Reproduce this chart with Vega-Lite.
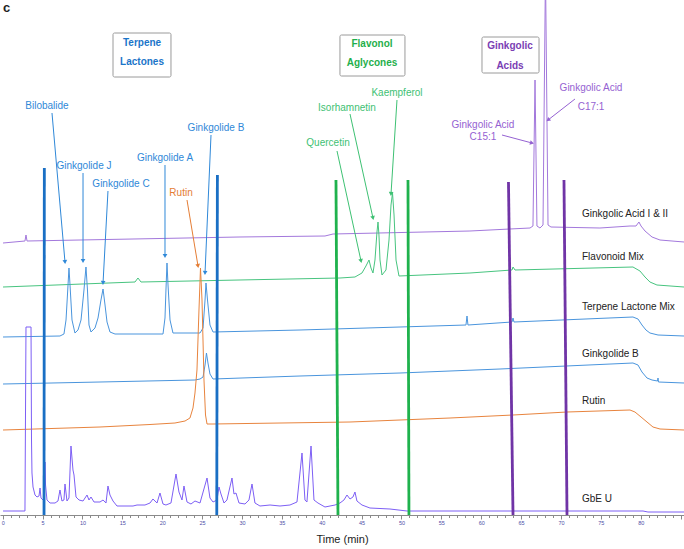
{
  "$schema": "https://vega.github.io/schema/vega-lite/v6.json",
  "width": 684,
  "height": 515,
  "autosize": {"type": "none"},
  "padding": {"left": 0, "top": 0, "right": 0, "bottom": 34},
  "background": "white",
  "config": {"view": {"stroke": null}, "font": "Liberation Sans"},
  "datasets": {
    "traces": [
      {"c":"GA","t":0.04,"v":272},{"c":"GA","t":2.79,"v":274},{"c":"GA","t":2.92,"v":280},{"c":"GA","t":3.05,"v":274},{"c":"GA","t":29.63,"v":278},{"c":"GA","t":40.41,"v":279},{"c":"GA","t":41.42,"v":281},{"c":"GA","t":58.59,"v":284},{"c":"GA","t":66.12,"v":287},{"c":"GA","t":66.49,"v":289},{"c":"GA","t":66.75,"v":435},{"c":"GA","t":66.99,"v":289},{"c":"GA","t":67.37,"v":287},{"c":"GA","t":67.75,"v":290},{"c":"GA","t":68.06,"v":545},{"c":"GA","t":68.38,"v":290},{"c":"GA","t":68.75,"v":288},{"c":"GA","t":74.89,"v":287},{"c":"GA","t":78.66,"v":289},{"c":"GA","t":79.41,"v":289},{"c":"GA","t":79.78,"v":293},{"c":"GA","t":80.04,"v":289},{"c":"GA","t":80.54,"v":284},{"c":"GA","t":81.42,"v":278},{"c":"GA","t":82.42,"v":275},{"c":"GA","t":85.43,"v":273},
      {"c":"FM","t":0.04,"v":228},{"c":"FM","t":16.59,"v":233},{"c":"FM","t":16.96,"v":237},{"c":"FM","t":17.34,"v":233},{"c":"FM","t":29.63,"v":235},{"c":"FM","t":42.29,"v":237},{"c":"FM","t":44.17,"v":238},{"c":"FM","t":45.05,"v":242},{"c":"FM","t":45.55,"v":249},{"c":"FM","t":45.93,"v":255},{"c":"FM","t":46.18,"v":247},{"c":"FM","t":46.43,"v":242},{"c":"FM","t":46.68,"v":255},{"c":"FM","t":46.93,"v":283},{"c":"FM","t":47.06,"v":293},{"c":"FM","t":47.18,"v":280},{"c":"FM","t":47.31,"v":255},{"c":"FM","t":47.56,"v":240},{"c":"FM","t":48.06,"v":245},{"c":"FM","t":48.44,"v":275},{"c":"FM","t":48.69,"v":310},{"c":"FM","t":48.88,"v":322},{"c":"FM","t":49.07,"v":300},{"c":"FM","t":49.32,"v":255},{"c":"FM","t":49.69,"v":239},{"c":"FM","t":58.59,"v":242},{"c":"FM","t":63.86,"v":245},{"c":"FM","t":63.99,"v":248},{"c":"FM","t":64.24,"v":245},{"c":"FM","t":79.03,"v":248},{"c":"FM","t":79.91,"v":244},{"c":"FM","t":80.54,"v":238},{"c":"FM","t":81.16,"v":233},{"c":"FM","t":82.04,"v":230},{"c":"FM","t":85.43,"v":228},
      {"c":"TL","t":0.04,"v":178},{"c":"TL","t":7.18,"v":179},{"c":"TL","t":7.68,"v":181},{"c":"TL","t":7.94,"v":195},{"c":"TL","t":8.19,"v":230},{"c":"TL","t":8.31,"v":247},{"c":"TL","t":8.44,"v":230},{"c":"TL","t":8.69,"v":195},{"c":"TL","t":9.06,"v":182},{"c":"TL","t":9.44,"v":185},{"c":"TL","t":9.82,"v":195},{"c":"TL","t":10.19,"v":225},{"c":"TL","t":10.44,"v":248},{"c":"TL","t":10.63,"v":225},{"c":"TL","t":10.82,"v":190},{"c":"TL","t":11.07,"v":183},{"c":"TL","t":11.57,"v":187},{"c":"TL","t":11.95,"v":197},{"c":"TL","t":12.32,"v":215},{"c":"TL","t":12.58,"v":226},{"c":"TL","t":12.83,"v":210},{"c":"TL","t":13.08,"v":193},{"c":"TL","t":13.45,"v":183},{"c":"TL","t":14.08,"v":181},{"c":"TL","t":20.1,"v":181},{"c":"TL","t":20.35,"v":197},{"c":"TL","t":20.47,"v":225},{"c":"TL","t":20.6,"v":252},{"c":"TL","t":20.73,"v":230},{"c":"TL","t":20.98,"v":195},{"c":"TL","t":21.35,"v":182},{"c":"TL","t":24.74,"v":182},{"c":"TL","t":25.12,"v":187},{"c":"TL","t":25.37,"v":215},{"c":"TL","t":25.49,"v":232},{"c":"TL","t":25.68,"v":215},{"c":"TL","t":25.99,"v":190},{"c":"TL","t":26.37,"v":183},{"c":"TL","t":37.28,"v":185},{"c":"TL","t":49.82,"v":188},{"c":"TL","t":58.09,"v":190},{"c":"TL","t":58.22,"v":199},{"c":"TL","t":58.34,"v":190},{"c":"TL","t":63.86,"v":193},{"c":"TL","t":63.99,"v":197},{"c":"TL","t":64.11,"v":193},{"c":"TL","t":79.03,"v":198},{"c":"TL","t":79.66,"v":196},{"c":"TL","t":80.16,"v":190},{"c":"TL","t":80.66,"v":185},{"c":"TL","t":81.16,"v":182},{"c":"TL","t":82.17,"v":180},{"c":"TL","t":85.43,"v":179},
      {"c":"GB","t":0.04,"v":131},{"c":"GB","t":12.2,"v":133},{"c":"GB","t":24.11,"v":135},{"c":"GB","t":24.74,"v":136},{"c":"GB","t":25.12,"v":138},{"c":"GB","t":25.37,"v":150},{"c":"GB","t":25.55,"v":162},{"c":"GB","t":25.74,"v":152},{"c":"GB","t":25.99,"v":141},{"c":"GB","t":26.37,"v":136},{"c":"GB","t":37.28,"v":139},{"c":"GB","t":49.82,"v":142},{"c":"GB","t":62.36,"v":146},{"c":"GB","t":79.03,"v":152},{"c":"GB","t":79.66,"v":150},{"c":"GB","t":80.16,"v":143},{"c":"GB","t":80.79,"v":137},{"c":"GB","t":81.42,"v":135},{"c":"GB","t":82.11,"v":134},{"c":"GB","t":82.17,"v":137},{"c":"GB","t":82.23,"v":133},{"c":"GB","t":85.43,"v":132},
      {"c":"RU","t":0.04,"v":85},{"c":"RU","t":12.2,"v":88},{"c":"RU","t":18.47,"v":90.5},{"c":"RU","t":21.6,"v":92},{"c":"RU","t":22.86,"v":94},{"c":"RU","t":23.48,"v":97},{"c":"RU","t":23.86,"v":107},{"c":"RU","t":24.11,"v":122},{"c":"RU","t":24.36,"v":145},{"c":"RU","t":24.61,"v":205},{"c":"RU","t":24.8,"v":247},{"c":"RU","t":24.99,"v":215},{"c":"RU","t":25.24,"v":135},{"c":"RU","t":25.43,"v":100},{"c":"RU","t":25.62,"v":91},{"c":"RU","t":26.37,"v":91},{"c":"RU","t":43.55,"v":93},{"c":"RU","t":56.09,"v":97},{"c":"RU","t":63.99,"v":100},{"c":"RU","t":70.76,"v":103},{"c":"RU","t":78.66,"v":105},{"c":"RU","t":79.28,"v":103},{"c":"RU","t":80.04,"v":98},{"c":"RU","t":80.79,"v":93},{"c":"RU","t":81.54,"v":88},{"c":"RU","t":82.42,"v":86},{"c":"RU","t":85.43,"v":85},
      {"c":"GbE","t":0.04,"v":4},{"c":"GbE","t":2.79,"v":4},{"c":"GbE","t":2.92,"v":188},{"c":"GbE","t":3.55,"v":188},{"c":"GbE","t":3.61,"v":75},{"c":"GbE","t":3.67,"v":42},{"c":"GbE","t":3.8,"v":28},{"c":"GbE","t":4.05,"v":20},{"c":"GbE","t":4.3,"v":18},{"c":"GbE","t":4.55,"v":19},{"c":"GbE","t":4.68,"v":27},{"c":"GbE","t":4.8,"v":17},{"c":"GbE","t":5.05,"v":15},{"c":"GbE","t":5.24,"v":17},{"c":"GbE","t":5.3,"v":53},{"c":"GbE","t":5.37,"v":30},{"c":"GbE","t":5.55,"v":15},{"c":"GbE","t":5.93,"v":12},{"c":"GbE","t":6.56,"v":12},{"c":"GbE","t":6.93,"v":14},{"c":"GbE","t":7.18,"v":25},{"c":"GbE","t":7.43,"v":14},{"c":"GbE","t":7.68,"v":15},{"c":"GbE","t":7.81,"v":31},{"c":"GbE","t":8.06,"v":14},{"c":"GbE","t":8.31,"v":17},{"c":"GbE","t":8.56,"v":69},{"c":"GbE","t":8.81,"v":45},{"c":"GbE","t":8.94,"v":40},{"c":"GbE","t":9.19,"v":18},{"c":"GbE","t":9.57,"v":15},{"c":"GbE","t":10.07,"v":14},{"c":"GbE","t":10.57,"v":20},{"c":"GbE","t":10.82,"v":15},{"c":"GbE","t":11.07,"v":18},{"c":"GbE","t":11.45,"v":13},{"c":"GbE","t":12.2,"v":13},{"c":"GbE","t":12.58,"v":15},{"c":"GbE","t":12.95,"v":12},{"c":"GbE","t":13.2,"v":29},{"c":"GbE","t":13.45,"v":20},{"c":"GbE","t":13.83,"v":14},{"c":"GbE","t":14.33,"v":9},{"c":"GbE","t":16.34,"v":9},{"c":"GbE","t":16.84,"v":10},{"c":"GbE","t":17.84,"v":10},{"c":"GbE","t":18.47,"v":12},{"c":"GbE","t":18.84,"v":16},{"c":"GbE","t":19.35,"v":12},{"c":"GbE","t":19.72,"v":22},{"c":"GbE","t":20.1,"v":11},{"c":"GbE","t":20.47,"v":10},{"c":"GbE","t":21.1,"v":12},{"c":"GbE","t":21.73,"v":41},{"c":"GbE","t":22.1,"v":23},{"c":"GbE","t":22.48,"v":15},{"c":"GbE","t":22.73,"v":29},{"c":"GbE","t":23.11,"v":13},{"c":"GbE","t":23.61,"v":11},{"c":"GbE","t":24.11,"v":14},{"c":"GbE","t":24.74,"v":12},{"c":"GbE","t":25.62,"v":37},{"c":"GbE","t":25.99,"v":17},{"c":"GbE","t":26.37,"v":13},{"c":"GbE","t":26.87,"v":15},{"c":"GbE","t":27.12,"v":28},{"c":"GbE","t":27.37,"v":21},{"c":"GbE","t":27.75,"v":12},{"c":"GbE","t":28.12,"v":15},{"c":"GbE","t":28.75,"v":37},{"c":"GbE","t":29.0,"v":21},{"c":"GbE","t":29.25,"v":22},{"c":"GbE","t":29.63,"v":12},{"c":"GbE","t":30.38,"v":11},{"c":"GbE","t":30.88,"v":15},{"c":"GbE","t":31.26,"v":31},{"c":"GbE","t":31.63,"v":12},{"c":"GbE","t":32.26,"v":9},{"c":"GbE","t":33.52,"v":10},{"c":"GbE","t":34.77,"v":9},{"c":"GbE","t":36.02,"v":10},{"c":"GbE","t":36.9,"v":13},{"c":"GbE","t":37.53,"v":62},{"c":"GbE","t":37.9,"v":15},{"c":"GbE","t":38.15,"v":13},{"c":"GbE","t":38.66,"v":69},{"c":"GbE","t":39.03,"v":15},{"c":"GbE","t":39.53,"v":12},{"c":"GbE","t":40.41,"v":8},{"c":"GbE","t":41.67,"v":10},{"c":"GbE","t":42.29,"v":12},{"c":"GbE","t":42.79,"v":15},{"c":"GbE","t":43.17,"v":20},{"c":"GbE","t":43.55,"v":16},{"c":"GbE","t":43.92,"v":18},{"c":"GbE","t":44.17,"v":23},{"c":"GbE","t":44.42,"v":14},{"c":"GbE","t":45.05,"v":10},{"c":"GbE","t":46.05,"v":7},{"c":"GbE","t":48.56,"v":6},{"c":"GbE","t":50.69,"v":4},{"c":"GbE","t":62.36,"v":4},{"c":"GbE","t":80.29,"v":4},{"c":"GbE","t":80.91,"v":3},{"c":"GbE","t":85.43,"v":3}
    ],
    "guides": [
      {"c":"terpL","t":5.22,"v":347,"t2":5.18,"v2":0},
      {"c":"terpL","t":26.92,"v":340,"t2":26.84,"v2":0},
      {"c":"flavL","t":41.79,"v":335,"t2":42.04,"v2":0},
      {"c":"flavL","t":50.82,"v":335,"t2":50.94,"v2":0},
      {"c":"gaL","t":63.42,"v":333,"t2":63.99,"v2":0},
      {"c":"gaL","t":70.38,"v":335,"t2":70.76,"v2":0}
    ],
    "boxes": [
      {"c":"terpB","t":13.83,"v":482,"t2":21.1,"v2":438},
      {"c":"flavB","t":42.29,"v":480,"t2":50.44,"v2":439},
      {"c":"gaB","t":60.1,"v":478,"t2":67.25,"v2":442}
    ],
    "boxtext": [
      {"c":"terpB","label":"Terpene","t":17.47,"v":472},
      {"c":"terpB","label":"Lactones","t":17.47,"v":453},
      {"c":"flavB","label":"Flavonol","t":46.31,"v":471},
      {"c":"flavB","label":"Aglycones","t":46.31,"v":452},
      {"c":"gaB","label":"Ginkgolic","t":63.61,"v":469},
      {"c":"gaB","label":"Acids","t":63.61,"v":449}
    ],
    "ann": [
      {"c":"terpT","label":"Bilobalide","t":5.55,"v":409},
      {"c":"terpT","label":"Ginkgolide J","t":10.19,"v":349},
      {"c":"terpT","label":"Ginkgolide C","t":14.83,"v":331},
      {"c":"terpT","label":"Ginkgolide A","t":20.35,"v":357},
      {"c":"terpT","label":"Ginkgolide B","t":26.74,"v":387},
      {"c":"rutinT","label":"Rutin","t":22.36,"v":322},
      {"c":"flavT","label":"Quercetin","t":40.79,"v":372},
      {"c":"flavT","label":"Isorhamnetin","t":43.17,"v":407},
      {"c":"flavT","label":"Kaempferol","t":49.44,"v":422},
      {"c":"gaT","label":"Ginkgolic Acid","t":60.22,"v":390},
      {"c":"gaT","label":"C15:1","t":60.22,"v":378},
      {"c":"gaT","label":"Ginkgolic Acid","t":73.77,"v":427},
      {"c":"gaT","label":"C17:1","t":73.77,"v":408}
    ],
    "arrows": [
      {"c":"terpT","t":6.18,"v":402,"t2":7.81,"v2":253},
      {"c":"terpT","t":10.07,"v":342,"t2":10.07,"v2":254},
      {"c":"terpT","t":13.2,"v":324,"t2":12.58,"v2":232},
      {"c":"terpT","t":20.35,"v":350,"t2":20.35,"v2":259},
      {"c":"terpT","t":26.12,"v":380,"t2":25.37,"v2":242},
      {"c":"rutinT","t":23.11,"v":315,"t2":24.49,"v2":249},
      {"c":"flavT","t":41.92,"v":364,"t2":44.93,"v2":254},
      {"c":"flavT","t":43.55,"v":401,"t2":46.43,"v2":297},
      {"c":"flavT","t":49.44,"v":415,"t2":48.69,"v2":321},
      {"c":"gaT","t":62.61,"v":380,"t2":66.37,"v2":372},
      {"c":"gaT","t":71.76,"v":416,"t2":68.38,"v2":395}
    ],
    "samples": [
      {"c":"k","label":"Ginkgolic Acid I & II","t":72.64,"v":301},
      {"c":"k","label":"Flavonoid Mix","t":72.64,"v":258},
      {"c":"k","label":"Terpene Lactone Mix","t":72.64,"v":208},
      {"c":"k","label":"Ginkgolide B","t":72.64,"v":161},
      {"c":"k","label":"Rutin","t":72.64,"v":114},
      {"c":"k","label":"GbE U","t":72.64,"v":16}
    ],
    "panel": [
      {"c":"k","label":"c","t":0.04,"v":507}
    ]
  },
  "encoding": {
    "x": {
      "field": "t", "type": "quantitative",
      "scale": {"domain": [-0.34, 85.43], "nice": false, "zero": false},
      "axis": {
        "values": [0,1,2,3,4,5,6,7,8,9,10,11,12,13,14,15,16,17,18,19,20,21,22,23,24,25,26,27,28,29,30,31,32,33,34,35,36,37,38,39,40,41,42,43,44,45,46,47,48,49,50,51,52,53,54,55,56,57,58,59,60,61,62,63,64,65,66,67,68,69,70,71,72,73,74,75,76,77,78,79,80,81,82,83,84,85],
        "labelExpr": "datum.value % 5 === 0 && datum.value < 85 ? datum.label : ''",
        "labelOverlap": false,
        "labelFlush": false,
        "labelFontSize": 5.5,
        "labelColor": "#4d4da6",
        "labelPadding": 1,
        "tickSize": {"condition": {"test": "datum.value % 5 === 0", "value": 4}, "value": 2.5},
        "tickColor": "#8a8a8a",
        "domainColor": "#8a8a8a",
        "grid": false,
        "title": "Time (min)",
        "titleFontSize": 11,
        "titleFontWeight": "normal",
        "titleColor": "#222222",
        "titlePadding": 8
      }
    },
    "y": {
      "field": "v", "type": "quantitative",
      "scale": {"domain": [0, 515], "nice": false, "zero": false},
      "axis": null
    },
    "color": {
      "field": "c", "type": "nominal", "legend": null,
      "scale": {
        "domain": ["GA","FM","TL","GB","RU","GbE","terpL","flavL","gaL","terpT","flavT","gaT","rutinT","terpB","flavB","gaB","k"],
        "range": ["#a378dc","#47c47f","#4a95dd","#4a95dd","#e8843e","#7d5ff5","#1a6fc4","#1fb24d","#7034a6","#2f88d8","#3ec173","#9562d2","#e47d35","#1b75c9","#1faf4c","#7a3db3","#222222"]
      }
    }
  },
  "layer": [
    {
      "data": {"values": [{}]},
      "mark": {"type": "rule", "color": "#8a8a8a", "strokeWidth": 1},
      "encoding": {"x": {"datum": 0}, "y": {"datum": 0}, "y2": {"datum": 467}, "color": {"value": "#8a8a8a"}}
    },
    {
      "data": {"name": "traces"},
      "mark": {"type": "line", "strokeWidth": 1, "clip": true, "interpolate": "linear"},
      "encoding": {"detail": {"field": "c"}}
    },
    {
      "data": {"name": "guides"},
      "mark": {"type": "rule", "strokeWidth": 2.8},
      "encoding": {"x2": {"field": "t2"}, "y2": {"field": "v2"}}
    },
    {
      "data": {"name": "boxes"},
      "mark": {"type": "rect", "stroke": "#9a9a9a", "strokeWidth": 1, "cornerRadius": 1.5},
      "encoding": {"x2": {"field": "t2"}, "y2": {"field": "v2"}, "color": {"value": "white"}}
    },
    {
      "data": {"name": "boxtext"},
      "mark": {"type": "text", "fontSize": 10, "fontWeight": "bold", "align": "center", "baseline": "middle"},
      "encoding": {"text": {"field": "label"}}
    },
    {
      "data": {"name": "arrows"},
      "mark": {"type": "rule", "strokeWidth": 1},
      "encoding": {"x2": {"field": "t2"}, "y2": {"field": "v2"}}
    },
    {
      "data": {"name": "arrows"},
      "transform": [{"calculate": "atan2((datum.t2 - datum.t) * 7.975, datum.v2 - datum.v) * 180 / PI", "as": "ang"}],
      "mark": {"type": "point", "shape": "triangle-up", "filled": true, "size": 22, "opacity": 1},
      "encoding": {
        "x": {"field": "t2", "type": "quantitative"},
        "y": {"field": "v2", "type": "quantitative"},
        "angle": {"field": "ang", "type": "quantitative", "scale": null}
      }
    },
    {
      "data": {"name": "ann"},
      "mark": {"type": "text", "fontSize": 10, "align": "center", "baseline": "middle"},
      "encoding": {"text": {"field": "label"}}
    },
    {
      "data": {"name": "samples"},
      "mark": {"type": "text", "fontSize": 10, "align": "left", "baseline": "middle"},
      "encoding": {"text": {"field": "label"}}
    },
    {
      "data": {"name": "panel"},
      "mark": {"type": "text", "fontSize": 13, "fontWeight": "bold", "align": "left", "baseline": "middle"},
      "encoding": {"text": {"field": "label"}}
    }
  ]
}
